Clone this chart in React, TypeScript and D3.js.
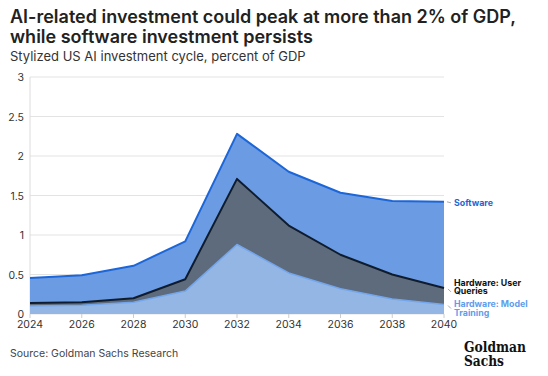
import React from "react";
import * as d3 from "d3";

const years = [2024, 2026, 2028, 2030, 2032, 2034, 2036, 2038, 2040];
const modelTraining = [0.1, 0.11, 0.15, 0.29, 0.88, 0.52, 0.32, 0.19, 0.12];
const userQueries = [0.04, 0.04, 0.05, 0.15, 0.83, 0.6, 0.43, 0.31, 0.21];
const software = [0.315, 0.34, 0.41, 0.48, 0.57, 0.68, 0.785, 0.93, 1.09];
const yTicks = [0, 0.5, 1, 1.5, 2, 2.5, 3];
const yTickLabels = ["0", "0.5", "1", "1.5", "2", "2.5", "3"];
const xTicks = [2024, 2026, 2028, 2030, 2032, 2034, 2036, 2038, 2040];

const W = 548;
const H = 376;
const FONT = "Inter, 'Noto Sans', sans-serif";
const LOGO_FONT = "'DejaVu Serif Condensed', 'DejaVu Serif', serif";

export default function App() {
  const x = d3.scaleLinear().domain([2024, 2040]).range([30, 444]);
  const y = d3.scaleLinear().domain([0, 3]).range([314, 77]);

  const rows = years.map((yr, i) => ({
    year: yr,
    training: modelTraining[i],
    queries: userQueries[i],
    software: software[i],
  }));
  const keys = ["training", "queries", "software"];
  const stacked = d3.stack<any>().keys(keys)(rows);

  const area = d3
    .area<any>()
    .x((d) => x(d.data.year))
    .y0((d) => y(d[0]))
    .y1((d) => y(d[1]));
  const line = d3
    .line<any>()
    .x((d) => x(d.data.year))
    .y((d) => y(d[1]));

  const fills: Record<string, string> = {
    training: "#93b6e4",
    queries: "#5d6b7d",
    software: "#6a9be3",
  };
  const strokes: Record<string, string> = {
    training: "#74a6ec",
    queries: "#0f1c2e",
    software: "#1c66d8",
  };

  const last = (k: number) => stacked[k][stacked[k].length - 1][1];

  return (
    <svg
      width={W}
      height={H}
      style={{ position: "absolute", left: 0, top: 0, background: "#fff" }}
      fontFamily={FONT}
    >
      <text x={10} y={23} fontSize={18} fontWeight={600} fill="#222">
        AI-related investment could peak at more than 2% of GDP,
      </text>
      <text x={10} y={43} fontSize={18} fontWeight={600} fill="#222">
        while software investment persists
      </text>
      <text x={10} y={61} fontSize={13} fill="#333">
        Stylized US AI investment cycle, percent of GDP
      </text>

      {yTicks.map((t) => (
        <line
          key={"g" + t}
          x1={30}
          x2={444}
          y1={y(t)}
          y2={y(t)}
          stroke="#e3e3e3"
          strokeWidth={1}
        />
      ))}
      <line x1={30} x2={30} y1={y(3)} y2={y(0)} stroke="#dcdcdc" />
      {yTicks.map((t, i) => (
        <text
          key={"yl" + t}
          x={24}
          y={y(t) + 4}
          textAnchor="end"
          fontSize={10.5}
          fill="#333"
        >
          {yTickLabels[i]}
        </text>
      ))}

      {stacked.map((s, i) => (
        <path key={"a" + i} d={area(s) || ""} fill={fills[keys[i]]} />
      ))}
      {stacked.map((s, i) => (
        <path
          key={"l" + i}
          d={line(s) || ""}
          fill="none"
          stroke={strokes[keys[i]]}
          strokeWidth={keys[i] === "training" ? 1.5 : 2}
          strokeLinejoin="round"
        />
      ))}

      {xTicks.map((t) => (
        <line
          key={"xt" + t}
          x1={x(t)}
          x2={x(t)}
          y1={314}
          y2={318}
          stroke="#ccc"
        />
      ))}
      {xTicks.map((t) => (
        <text
          key={"xl" + t}
          x={x(t)}
          y={328}
          textAnchor="middle"
          fontSize={10.5}
          fill="#333"
        >
          {t}
        </text>
      ))}

      {/* series labels */}
      <line x1={447} x2={451} y1={y(last(2))} y2={y(last(2)) + 1} stroke="#aaa" />
      <text x={454} y={206} fontSize={8.8} fontWeight={700} fill="#1c66d8">
        Software
      </text>
      <line x1={448} x2={451} y1={y(last(1)) + 1} y2={y(last(1)) + 4} stroke="#aaa" />
      <text x={454} y={285.5} fontSize={8.8} fontWeight={700} fill="#111">
        Hardware: User
      </text>
      <text x={454} y={294} fontSize={8.8} fontWeight={700} fill="#111">
        Queries
      </text>
      <line x1={448} x2={451} y1={y(last(0)) + 1} y2={y(last(0)) + 4} stroke="#aaa" />
      <text x={454} y={307} fontSize={8.8} fontWeight={700} fill="#5f9ded">
        Hardware: Model
      </text>
      <text x={454} y={315.5} fontSize={8.8} fontWeight={700} fill="#5f9ded">
        Training
      </text>

      <text x={10} y={357} fontSize={10.5} fill="#444">
        Source: Goldman Sachs Research
      </text>
      <text
        x={464}
        y={352}
        fontSize={15}
        fontWeight={700}
        fontFamily={LOGO_FONT}
        fill="#111"
        textLength={62}
        lengthAdjust="spacingAndGlyphs"
      >
        Goldman
      </text>
      <text
        x={464}
        y={365.5}
        fontSize={15}
        fontWeight={700}
        fontFamily={LOGO_FONT}
        fill="#111"
        textLength={40}
        lengthAdjust="spacingAndGlyphs"
      >
        Sachs
      </text>
    </svg>
  );
}
